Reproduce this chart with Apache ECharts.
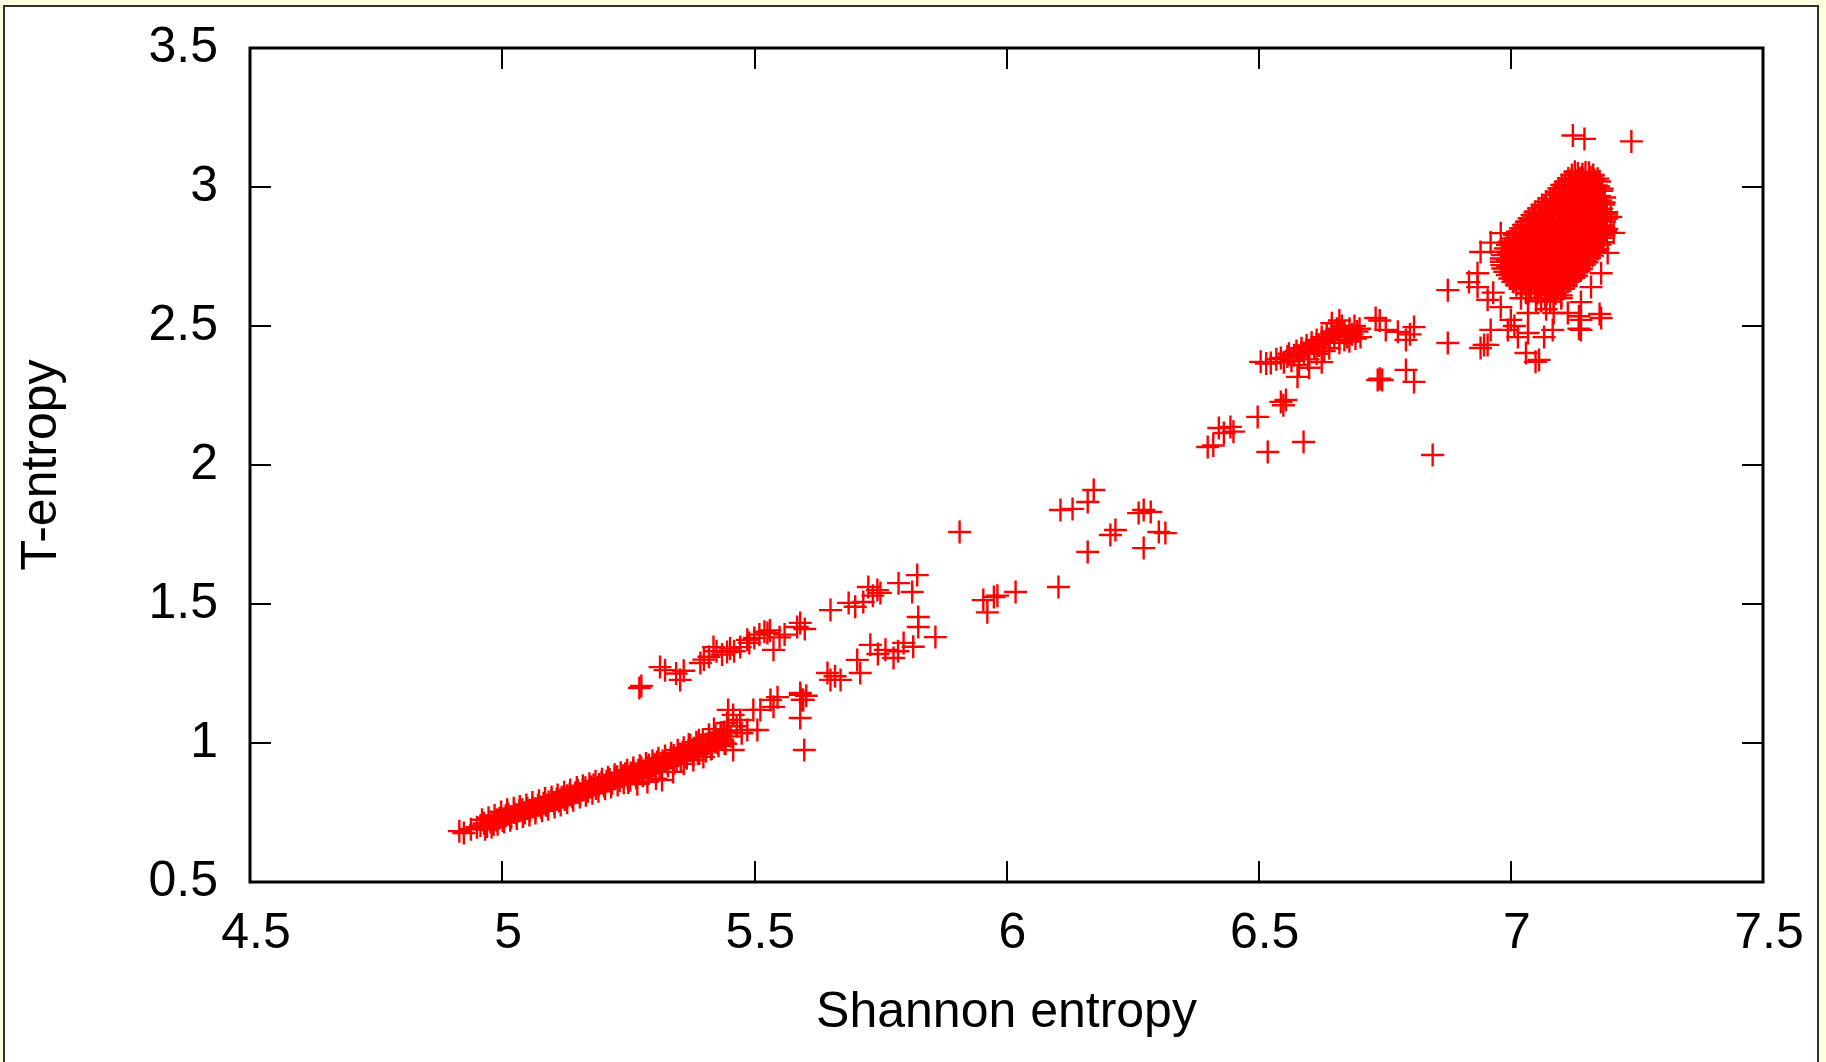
<!DOCTYPE html>
<html><head><meta charset="utf-8">
<script src="https://cdn.jsdelivr.net/npm/echarts@6/dist/echarts.min.js"></script>
<style>html,body{margin:0;padding:0;background:#ffffe0;}#chart{width:1826px;height:1062px;}</style>
</head><body><div id="chart"></div>
<script>
const xTicks = [4.5, 5, 5.5, 6, 6.5, 7, 7.5];
const yTicks = [0.5, 1, 1.5, 2, 2.5, 3, 3.5];
const xTitle = 'Shannon entropy';
const yTitle = 'T-entropy';

const bandLow = [[4.915,0.683],[4.924,0.676],[4.938,0.690],[4.950,0.697],[4.957,0.703],[4.964,0.711],[4.970,0.700],[4.977,0.716],[4.983,0.707],[4.989,0.722],[4.995,0.729],[5.001,0.721],[5.007,0.738],[5.012,0.745],[5.018,0.733],[5.024,0.750],[5.029,0.742],[5.034,0.755],[5.040,0.760],[5.045,0.748],[5.050,0.764],[5.055,0.757],[5.060,0.770],[5.066,0.763],[5.071,0.776],[5.077,0.769],[5.082,0.783],[5.087,0.776],[5.092,0.788],[5.098,0.794],[5.103,0.783],[5.108,0.798],[5.113,0.791],[5.118,0.805],[5.124,0.797],[5.129,0.810],[5.134,0.817],[5.139,0.806],[5.145,0.821],[5.150,0.829],[5.155,0.817],[5.160,0.832],[5.165,0.839],[5.170,0.826],[5.176,0.842],[5.181,0.849],[5.186,0.836],[5.192,0.851],[5.197,0.859],[5.202,0.845],[5.207,0.862],[5.213,0.869],[5.218,0.855],[5.223,0.872],[5.228,0.879],[5.233,0.864],[5.239,0.882],[5.244,0.889],[5.249,0.874],[5.255,0.892],[5.260,0.899],[5.265,0.883],[5.270,0.902],[5.276,0.910],[5.281,0.894],[5.286,0.913],[5.291,0.921],[5.296,0.905],[5.302,0.924],[5.307,0.932],[5.312,0.915],[5.318,0.935],[5.323,0.943],[5.328,0.926],[5.334,0.947],[5.340,0.955],[5.346,0.937],[5.352,0.960],[5.358,0.968],[5.365,0.949],[5.372,0.972],[5.380,0.981],[5.388,0.962],[5.396,0.987],[5.405,0.996],[5.414,0.978],[5.423,1.004],[5.433,1.013],[5.443,0.997],[5.453,1.024]];

const bandLowUpperEdge = [[4.960,0.724],[4.973,0.731],[4.985,0.739],[4.998,0.752],[5.010,0.760],[5.023,0.765],[5.035,0.772],[5.048,0.777],[5.060,0.786],[5.073,0.792],[5.085,0.800],[5.098,0.806],[5.110,0.813],[5.123,0.823],[5.135,0.831],[5.148,0.840],[5.160,0.846],[5.173,0.853],[5.185,0.862],[5.198,0.870],[5.210,0.877],[5.223,0.886],[5.235,0.893],[5.248,0.902],[5.260,0.910],[5.273,0.918],[5.285,0.926],[5.298,0.936],[5.310,0.945],[5.323,0.953],[5.335,0.963],[5.348,0.974],[5.360,0.983],[5.373,0.992],[5.385,1.003],[5.398,1.012],[5.410,1.021],[5.423,1.030],[5.435,1.038],[5.448,1.045]];

const bandLowLowerEdge = [[4.966,0.690],[4.979,0.698],[4.991,0.708],[5.004,0.716],[5.016,0.722],[5.029,0.728],[5.041,0.736],[5.054,0.741],[5.066,0.748],[5.079,0.756],[5.091,0.762],[5.104,0.770],[5.116,0.777],[5.129,0.785],[5.141,0.794],[5.154,0.806],[5.166,0.812],[5.179,0.819],[5.191,0.826],[5.204,0.835],[5.216,0.842],[5.229,0.849],[5.241,0.857],[5.254,0.866],[5.266,0.873],[5.279,0.882],[5.291,0.891],[5.304,0.900],[5.316,0.909],[5.329,0.918],[5.341,0.927],[5.354,0.936],[5.366,0.945],[5.379,0.955],[5.391,0.962],[5.404,0.971],[5.416,0.981],[5.429,0.990],[5.441,0.998]];

const bandLowScatter = [[5.250,0.858],[5.268,0.852],[5.288,0.860],[5.305,0.872],[5.317,0.867],[5.339,0.896],[5.360,0.925],[5.379,0.939],[5.399,0.950],[5.427,1.000],[5.458,0.975],[5.433,1.036],[5.446,1.072],[5.448,1.119],[5.458,1.101],[5.472,1.083],[5.486,1.047],[5.506,1.047],[5.498,1.119],[5.512,1.119],[5.532,1.155],[5.546,1.165],[5.538,1.130],[5.591,1.173],[5.595,1.155],[5.591,1.090],[5.599,0.975],[5.410,1.030],[5.420,1.050],[5.440,1.040],[5.465,1.060],[5.475,1.035],[5.390,1.010],[5.370,0.995]];

const bandUpper = [[5.272,1.198],[5.276,1.205],[5.313,1.273],[5.323,1.262],[5.345,1.250],[5.353,1.227],[5.360,1.260],[5.393,1.288],[5.400,1.300],[5.410,1.310],[5.419,1.345],[5.425,1.330],[5.436,1.318],[5.446,1.327],[5.452,1.340],[5.460,1.330],[5.472,1.345],[5.486,1.371],[5.490,1.360],[5.500,1.378],[5.510,1.390],[5.520,1.400],[5.526,1.396],[5.531,1.405],[5.538,1.335],[5.550,1.380],[5.560,1.390],[5.585,1.417],[5.591,1.432],[5.600,1.410],[5.651,1.478],[5.687,1.504],[5.700,1.490],[5.716,1.507],[5.726,1.561],[5.735,1.530],[5.744,1.550],[5.750,1.540],[5.786,1.575],[5.813,1.543],[5.823,1.604]];

const bandMid = [[5.591,1.180],[5.597,1.155],[5.603,1.170],[5.645,1.252],[5.651,1.227],[5.660,1.240],[5.671,1.227],[5.704,1.299],[5.710,1.252],[5.730,1.353],[5.745,1.320],[5.760,1.335],[5.776,1.306],[5.785,1.330],[5.796,1.360],[5.815,1.346],[5.825,1.453],[5.825,1.417],[5.859,1.381]];

const midPoints = [[5.907,1.759],[5.954,1.514],[5.962,1.470],[5.975,1.525],[5.982,1.530],[6.018,1.543],[6.103,1.561],[6.107,1.838],[6.131,1.842],[6.161,1.867],[6.173,1.910],[6.161,1.687],[6.206,1.748],[6.216,1.766],[6.262,1.827],[6.272,1.838],[6.286,1.831],[6.272,1.701],[6.302,1.759],[6.315,1.755],[6.399,2.065],[6.410,2.070],[6.421,2.133],[6.431,2.115],[6.444,2.137],[6.450,2.120],[6.498,2.173],[6.518,2.047],[6.544,2.227],[6.554,2.234],[6.549,2.215],[6.589,2.083],[6.845,2.036]];

const cluster66 = [[6.504,2.371],[6.515,2.365],[6.524,2.367],[6.535,2.380],[6.544,2.385],[6.550,2.370],[6.557,2.390],[6.560,2.400],[6.565,2.375],[6.570,2.395],[6.575,2.410],[6.580,2.390],[6.585,2.420],[6.590,2.400],[6.595,2.430],[6.600,2.410],[6.605,2.440],[6.610,2.420],[6.615,2.450],[6.620,2.430],[6.625,2.460],[6.630,2.440],[6.635,2.470],[6.640,2.450],[6.645,2.480],[6.650,2.460],[6.655,2.490],[6.660,2.470],[6.665,2.500],[6.670,2.480],[6.675,2.460],[6.680,2.490],[6.685,2.470],[6.690,2.500],[6.695,2.480],[6.700,2.490],[6.598,2.380],[6.615,2.400],[6.630,2.410],[6.640,2.420],[6.660,2.440],[6.670,2.450],[6.625,2.370],[6.577,2.317],[6.660,2.520],[6.645,2.510],[6.680,2.445],[6.692,2.455],[6.702,2.460],[6.580,2.360],[6.600,2.350],[6.732,2.529],[6.740,2.520],[6.752,2.486],[6.776,2.479],[6.792,2.450],[6.808,2.496],[6.800,2.470],[6.736,2.306],[6.745,2.306],[6.740,2.310],[6.792,2.342],[6.808,2.299],[6.875,2.439]];

const clusterTopOut = [[6.875,2.629],[6.934,2.640],[6.940,2.766],[6.947,2.432],[6.940,2.421],[6.954,2.432],[6.960,2.486],[6.994,2.486],[7.030,2.403],[7.056,2.378],[7.066,2.460],[7.139,2.486],[7.179,2.529],[7.123,3.185],[7.146,3.173],[7.239,3.164],[6.917,2.658],[6.934,2.690],[6.960,2.800],[6.980,2.834],[6.980,2.568],[7.000,2.522],[7.034,2.547],[7.085,2.547],[7.139,2.522],[7.139,2.586],[7.159,2.640],[6.954,2.594],[7.014,2.460],[7.034,2.475],[7.083,2.486],[7.113,2.547],[7.192,2.763],[7.204,2.835],[7.179,2.690],[7.198,2.892],[7.163,3.043],[7.139,3.032],[7.007,2.500],[7.049,2.371],[7.135,2.535],[7.176,2.543],[7.135,2.490],[7.050,2.590],[7.020,2.600],[7.100,2.600],[6.965,2.620],[7.070,2.560]];

const clusterTop = [
[7.127,3.055],[7.148,3.052],
[7.121,3.043],[7.142,3.046],[7.163,3.041],
[7.114,3.031],[7.137,3.028],[7.158,3.034],[7.172,3.030],
[7.108,3.019],[7.131,3.022],[7.153,3.017],[7.176,3.020],
[7.101,3.007],[7.124,3.004],[7.147,3.009],[7.169,3.006],
[7.095,2.995],[7.118,2.998],[7.141,2.993],[7.163,2.997],[7.181,2.994],
[7.090,2.983],[7.113,2.980],[7.136,2.985],[7.159,2.982],[7.180,2.986],
[7.085,2.971],[7.107,2.974],[7.130,2.969],[7.153,2.972],[7.176,2.968],
[7.078,2.959],[7.101,2.962],[7.125,2.957],[7.148,2.961],[7.171,2.958],[7.186,2.962],
[7.070,2.947],[7.094,2.944],[7.118,2.949],[7.142,2.945],[7.166,2.948],[7.185,2.944],
[7.062,2.935],[7.087,2.938],[7.112,2.933],[7.137,2.936],[7.161,2.932],[7.184,2.937],
[7.055,2.923],[7.080,2.920],[7.105,2.925],[7.130,2.921],[7.155,2.926],[7.180,2.922],
[7.048,2.911],[7.073,2.914],[7.099,2.909],[7.124,2.913],[7.150,2.908],[7.176,2.912],[7.190,2.909],
[7.042,2.899],[7.067,2.896],[7.093,2.901],[7.118,2.897],[7.144,2.902],[7.170,2.898],[7.190,2.901],
[7.036,2.887],[7.061,2.890],[7.087,2.885],[7.113,2.889],[7.139,2.884],[7.165,2.888],[7.189,2.886],
[7.031,2.875],[7.056,2.872],[7.082,2.877],[7.108,2.873],[7.134,2.878],[7.160,2.874],[7.186,2.876],
[7.025,2.863],[7.051,2.866],[7.077,2.861],[7.103,2.865],[7.129,2.860],[7.155,2.864],[7.182,2.862],
[7.019,2.851],[7.045,2.848],[7.071,2.853],[7.097,2.849],[7.123,2.854],[7.150,2.850],[7.178,2.852],[7.190,2.849],
[7.013,2.839],[7.039,2.842],[7.066,2.837],[7.092,2.841],[7.118,2.836],[7.145,2.840],[7.172,2.838],[7.188,2.841],
[7.007,2.827],[7.034,2.824],[7.060,2.829],[7.087,2.825],[7.113,2.830],[7.140,2.826],[7.167,2.828],[7.185,2.825],
[7.002,2.815],[7.029,2.818],[7.055,2.813],[7.082,2.817],[7.108,2.812],[7.135,2.816],[7.162,2.814],[7.183,2.817],
[6.997,2.803],[7.024,2.800],[7.050,2.805],[7.077,2.801],[7.103,2.806],[7.130,2.802],[7.157,2.804],[7.180,2.801],
[6.993,2.791],[7.019,2.794],[7.046,2.789],[7.072,2.793],[7.099,2.788],[7.125,2.792],[7.152,2.790],[7.177,2.793],
[6.989,2.779],[7.015,2.776],[7.041,2.781],[7.068,2.777],[7.094,2.782],[7.121,2.778],[7.147,2.780],[7.173,2.777],
[6.985,2.767],[7.011,2.770],[7.037,2.765],[7.064,2.769],[7.090,2.764],[7.116,2.768],[7.142,2.766],[7.168,2.769],
[6.983,2.755],[7.008,2.752],[7.034,2.757],[7.060,2.753],[7.086,2.758],[7.112,2.754],[7.138,2.756],[7.162,2.753],
[6.981,2.743],[7.006,2.746],[7.031,2.741],[7.056,2.745],[7.082,2.740],[7.107,2.744],[7.132,2.742],[7.156,2.745],
[6.981,2.731],[7.005,2.728],[7.029,2.733],[7.053,2.729],[7.078,2.734],[7.102,2.730],[7.127,2.732],[7.151,2.729],
[6.982,2.719],[7.005,2.722],[7.028,2.717],[7.051,2.721],[7.074,2.716],[7.098,2.720],[7.121,2.718],[7.146,2.721],
[6.984,2.707],[7.006,2.704],[7.028,2.709],[7.050,2.705],[7.072,2.710],[7.094,2.706],[7.116,2.708],[7.140,2.705],
[6.988,2.695],[7.009,2.698],[7.030,2.693],[7.051,2.697],[7.072,2.692],[7.093,2.696],[7.114,2.694],[7.135,2.697],
[6.993,2.683],[7.013,2.680],[7.033,2.685],[7.053,2.681],[7.073,2.686],[7.093,2.682],[7.113,2.684],[7.130,2.681],
[6.998,2.671],[7.017,2.674],[7.036,2.669],[7.055,2.673],[7.074,2.668],[7.093,2.672],[7.112,2.670],[7.125,2.673],
[7.004,2.659],[7.023,2.656],[7.041,2.661],[7.059,2.657],[7.077,2.662],[7.095,2.658],[7.113,2.660],
[7.011,2.647],[7.029,2.650],[7.047,2.645],[7.064,2.649],[7.082,2.644],[7.100,2.648],[7.108,2.645],
[7.020,2.635],[7.037,2.632],[7.054,2.637],[7.071,2.633],[7.088,2.638],[7.103,2.634]
];

const clusterTopFill = [
[7.133,3.049],[7.155,3.051],
[7.120,3.025],[7.143,3.027],[7.166,3.024],
[7.107,3.001],[7.130,3.003],[7.152,2.999],[7.174,3.002],
[7.096,2.977],[7.119,2.979],[7.142,2.976],[7.165,2.978],
[7.083,2.953],[7.106,2.955],[7.130,2.951],[7.154,2.954],[7.178,2.952],
[7.068,2.929],[7.093,2.931],[7.118,2.927],[7.143,2.930],[7.168,2.928],
[7.057,2.905],[7.083,2.907],[7.108,2.903],[7.134,2.906],[7.160,2.904],[7.183,2.906],
[7.044,2.881],[7.070,2.883],[7.096,2.879],[7.122,2.882],[7.148,2.880],[7.174,2.882],
[7.032,2.857],[7.058,2.859],[7.084,2.855],[7.110,2.858],[7.136,2.856],[7.162,2.858],[7.184,2.855],
[7.021,2.833],[7.047,2.835],[7.073,2.831],[7.100,2.834],[7.126,2.832],[7.153,2.834],[7.178,2.831],
[7.011,2.809],[7.037,2.811],[7.064,2.807],[7.090,2.810],[7.117,2.808],[7.144,2.810],[7.170,2.807],
[7.003,2.785],[7.029,2.787],[7.055,2.783],[7.082,2.786],[7.108,2.784],[7.135,2.786],[7.161,2.783],
[6.995,2.761],[7.021,2.763],[7.047,2.759],[7.073,2.762],[7.099,2.760],[7.125,2.762],[7.151,2.759],
[6.993,2.737],[7.018,2.739],[7.043,2.735],[7.068,2.738],[7.094,2.736],[7.119,2.738],[7.144,2.735],
[6.994,2.713],[7.017,2.715],[7.040,2.711],[7.063,2.714],[7.086,2.712],[7.110,2.714],[7.133,2.711],
[7.000,2.689],[7.021,2.691],[7.042,2.687],[7.063,2.690],[7.084,2.688],[7.104,2.690],[7.124,2.687],
[7.008,2.665],[7.027,2.667],[7.046,2.663],[7.065,2.666],[7.084,2.664],[7.103,2.666],[7.118,2.663],
[7.022,2.641],[7.040,2.643],[7.058,2.639],[7.076,2.642],[7.094,2.640],
[7.035,2.617],[7.053,2.619],[7.071,2.615],[7.089,2.618],
[7.050,2.600],[7.068,2.602],[7.085,2.598],[7.060,2.590],[7.078,2.588],[7.030,2.620],[7.100,2.610]
];

const allPoints = [].concat(bandLow, bandLowUpperEdge, bandLowLowerEdge, bandLowScatter, bandUpper, bandMid, midPoints, cluster66, clusterTopOut, clusterTop, clusterTopFill);

const FONT = "'Liberation Sans', Arial, Helvetica, sans-serif";
const plus = 'path://M10.3,0H12.7V10.3H23V12.7H12.7V23H10.3V12.7H0V10.3H10.3Z';
const xMin = xTicks[0], xMax = xTicks[xTicks.length-1], xInt = xTicks[1]-xTicks[0];
const yMin = yTicks[0], yMax = yTicks[yTicks.length-1], yInt = yTicks[1]-yTicks[0];

const chart = echarts.init(document.getElementById('chart'), null, {renderer:'canvas'});
const tickStyle = {show:true, inside:true, length:21, lineStyle:{color:'#000', width:2}};
chart.setOption({
  backgroundColor:'#ffffe0',
  animation:false,
  graphic:[{type:'rect', z:-100, shape:{x:4, y:6, width:1814, height:1100}, style:{fill:'#ffffff', stroke:'#303030', lineWidth:2}}],
  grid:{left:250, top:48, right:63, bottom:180, show:true, borderColor:'#000', borderWidth:3, backgroundColor:'#fff'},
  xAxis:[
    {type:'value', position:'bottom', min:xMin, max:xMax, interval:xInt,
     axisLine:{show:false}, axisTick:tickStyle, splitLine:{show:false},
     axisLabel:{fontSize:50, color:'#000', fontFamily:FONT, margin:27, padding:[0,0,0,12]},
     name:xTitle, nameLocation:'middle', nameGap:106,
     nameTextStyle:{fontSize:50, color:'#000', fontFamily:FONT}},
    {type:'value', position:'top', min:xMin, max:xMax, interval:xInt,
     axisLine:{show:false}, axisTick:tickStyle, axisLabel:{show:false}, splitLine:{show:false}}
  ],
  yAxis:[
    {type:'value', position:'left', min:yMin, max:yMax, interval:yInt,
     axisLine:{show:false}, axisTick:tickStyle, splitLine:{show:false},
     axisLabel:{fontSize:50, color:'#000', fontFamily:FONT, margin:32},
     name:yTitle, nameLocation:'middle', nameGap:183, nameRotate:90,
     nameTextStyle:{fontSize:50, color:'#000', fontFamily:FONT}},
    {type:'value', position:'right', min:yMin, max:yMax, interval:yInt,
     axisLine:{show:false}, axisTick:tickStyle, axisLabel:{show:false}, splitLine:{show:false}}
  ],
  series:[{
    type:'scatter', xAxisIndex:0, yAxisIndex:0,
    data: allPoints,
    symbol: plus, symbolSize: 23,
    itemStyle:{color:'#ff0000', opacity:1},
    emphasis:{disabled:true},
    large:false
  }]
});
</script>
</body></html>
